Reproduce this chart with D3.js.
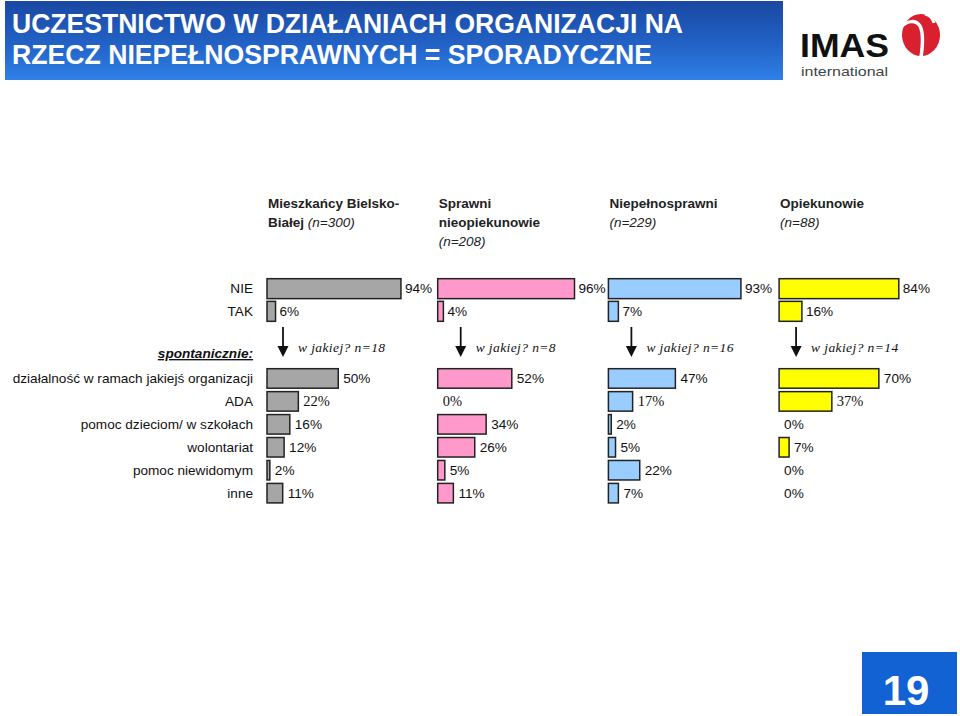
<!DOCTYPE html>
<html><head><meta charset="utf-8">
<script src="https://cdn.jsdelivr.net/npm/d3@7"></script>
<style>body{margin:0;background:#fff}svg{display:block}.serif{font-family:'Liberation Serif','Times New Roman',serif}</style>
</head><body>
<script>
const titleLines = ["UCZESTNICTWO W DZIAŁANIACH ORGANIZACJI NA", "RZECZ NIEPEŁNOSPRAWNYCH = SPORADYCZNE"];
const groups = ["Mieszkańcy Bielsko-Białej", "Sprawni nieopiekunowie", "Niepełnosprawni", "Opiekunowie"];
const groupHeaderLines = [
  [["Mieszkańcy Bielsko-", ""], ["Białej ", "(n=300)"]],
  [["Sprawni", ""], ["nieopiekunowie", ""], ["", "(n=208)"]],
  [["Niepełnosprawni", ""], ["", "(n=229)"]],
  [["Opiekunowie", ""], ["", "(n=88)"]]
];
const answerLabels = ["NIE", "TAK"];
const nieValues = [94, 96, 93, 84];
const takValues = [6, 4, 7, 16];
const subN = [18, 8, 16, 14];
const categories = ["działalność w ramach jakiejś organizacji", "ADA", "pomoc dzieciom/ w szkołach", "wolontariat", "pomoc niewidomym", "inne"];
const mieszkancyValues = [50, 22, 16, 12, 2, 11];
const sprawniValues = [52, 0, 34, 26, 5, 11];
const niepelnosprawniValues = [47, 17, 2, 5, 22, 7];
const opiekunowieValues = [70, 37, 0, 7, 0, 0];
const groupColors = ["#a6a6a6", "#ff99cc", "#99ccff", "#ffff00"];
const pageNumber = "19";

const seriesValues = [mieszkancyValues, sprawniValues, niepelnosprawniValues, opiekunowieValues];
const W = 960, H = 716;
const svg = d3.select("body").append("svg").attr("width", W).attr("height", H)
  .attr("font-family", "Arial, 'Liberation Sans', sans-serif");

// header
const defs = svg.append("defs");
const grad = defs.append("linearGradient").attr("id", "hdr").attr("x1", 0).attr("y1", 0).attr("x2", 0).attr("y2", 1);
grad.append("stop").attr("offset", "0%").attr("stop-color", "#1a48a2");
grad.append("stop").attr("offset", "55%").attr("stop-color", "#2262c6");
grad.append("stop").attr("offset", "100%").attr("stop-color", "#2f80e8");
svg.append("rect").attr("x", 5).attr("y", 1).attr("width", 778).attr("height", 79).attr("fill", "url(#hdr)");
const titleWidths = [671, 640];
titleLines.forEach((t, i) => {
  svg.append("text").attr("x", 12).attr("y", 33 + i * 31).text(t)
    .attr("fill", "#fff").attr("font-weight", "bold").attr("font-size", 28)
    .attr("textLength", titleWidths[i]).attr("lengthAdjust", "spacingAndGlyphs");
});

// logo
svg.append("text").attr("x", 800).attr("y", 57).text("IMAS").attr("font-weight", "bold")
  .attr("font-size", 34).attr("fill", "#111").attr("textLength", 89).attr("lengthAdjust", "spacingAndGlyphs");
svg.append("text").attr("x", 801).attr("y", 76).text("international").attr("font-size", 13)
  .attr("fill", "#444").attr("textLength", 87).attr("lengthAdjust", "spacingAndGlyphs");
svg.append("ellipse").attr("cx", 921).attr("cy", 35).attr("rx", 19).attr("ry", 21).attr("fill", "#d8202f");
svg.append("path").attr("d", "M901,27 C908,20 916,20 920,26 C923,32 923,44 921,57")
  .attr("fill", "none").attr("stroke", "#fff").attr("stroke-width", 3.5);
svg.append("path").attr("d", "M925,14 C930,15 933,19 934,23").attr("fill", "none")
  .attr("stroke", "#fff").attr("stroke-width", 3);

// scales
const x = d3.scaleLinear().domain([0, 100]).range([0, 142.5]);
const gx = d3.scaleBand().domain(groups).range([267, 267 + 4 * 170.7]).paddingInner(0);
const yTop = d3.scaleBand().domain(answerLabels).range([278, 278 + 2 * 22]).paddingInner(0.12).paddingOuter(0.03);
const yRow = d3.scaleBand().domain(categories).range([368, 368 + 6 * 22.6]).paddingInner(0.15).paddingOuter(0.03);

// group headers
groups.forEach((g, gi) => {
  const t = svg.append("text").attr("font-size", 13.5).attr("fill", "#222");
  groupHeaderLines[gi].forEach((ln, li) => {
    const ts = t.append("tspan").attr("x", gx(g) + 1).attr("y", 208 + li * 19);
    if (ln[0]) ts.append("tspan").attr("font-weight", "bold").text(ln[0]);
    if (ln[1]) ts.append("tspan").attr("font-style", "italic").text(ln[1]);
  });
});

// row labels
answerLabels.forEach(a => {
  svg.append("text").attr("x", 253).attr("y", yTop(a) + yTop.bandwidth() / 2).attr("dy", "0.35em")
    .attr("text-anchor", "end").attr("font-size", 13.6).attr("fill", "#111").text(a);
});
svg.append("text").attr("x", 253).attr("y", 358).attr("text-anchor", "end").attr("font-size", 13.6)
  .attr("font-weight", "bold").attr("font-style", "italic").attr("text-decoration", "underline")
  .attr("fill", "#111").text("spontanicznie:");
categories.forEach(c => {
  svg.append("text").attr("x", 253).attr("y", yRow(c) + yRow.bandwidth() / 2).attr("dy", "0.35em")
    .attr("text-anchor", "end").attr("font-size", 13.6).attr("fill", "#111").text(c);
});

// top bars
const topData = [];
groups.forEach((g, gi) => {
  topData.push({ g, gi, a: "NIE", v: nieValues[gi] });
  topData.push({ g, gi, a: "TAK", v: takValues[gi] });
});
svg.selectAll(".tb").data(topData).join("rect").attr("class", "tb")
  .attr("x", d => gx(d.g)).attr("y", d => yTop(d.a))
  .attr("width", d => x(d.v)).attr("height", yTop.bandwidth())
  .attr("fill", d => groupColors[d.gi]).attr("stroke", "#222").attr("stroke-width", 1.5);
svg.selectAll(".tl").data(topData).join("text").attr("class", "tl")
  .attr("x", d => gx(d.g) + x(d.v) + 4).attr("y", d => yTop(d.a) + yTop.bandwidth() / 2).attr("dy", "0.35em")
  .attr("font-size", 13.6).attr("fill", "#111").text(d => d.v + "%");

// arrows and sub headers
const arrowOffsets = [16, 23, 23, 17];
groups.forEach((g, gi) => {
  const ax = gx(g) + arrowOffsets[gi];
  svg.append("line").attr("x1", ax).attr("x2", ax).attr("y1", 327).attr("y2", 348)
    .attr("stroke", "#111").attr("stroke-width", 1.8);
  svg.append("path").attr("d", `M${ax - 5.5},346 L${ax + 5.5},346 L${ax},357 Z`).attr("fill", "#111");
  svg.append("text").attr("class", "serif").attr("x", ax + 15).attr("y", 352)
    .attr("font-style", "italic")
    .attr("font-size", 13.5).attr("fill", "#111").attr("letter-spacing", 0.4)
    .text("w jakiej? n=" + subN[gi]);
});

// bottom bars
const rowData = [];
groups.forEach((g, gi) => categories.forEach((c, ci) => rowData.push({ g, gi, c, ci, v: seriesValues[gi][ci] })));
svg.selectAll(".rb").data(rowData.filter(d => d.v > 0)).join("rect").attr("class", "rb")
  .attr("x", d => gx(d.g)).attr("y", d => yRow(d.c))
  .attr("width", d => x(d.v)).attr("height", yRow.bandwidth())
  .attr("fill", d => groupColors[d.gi]).attr("stroke", "#222").attr("stroke-width", 1.5);
svg.selectAll(".rl").data(rowData).join("text")
  .attr("class", d => d.c === "ADA" ? "rl serif" : "rl")
  .attr("x", d => gx(d.g) + x(d.v) + 5).attr("y", d => yRow(d.c) + yRow.bandwidth() / 2).attr("dy", "0.35em")
  .attr("font-size", d => d.c === "ADA" ? 14.5 : 13.6).attr("fill", "#111")
  .text(d => d.v + "%");

// page number
svg.append("rect").attr("x", 862).attr("y", 652).attr("width", 95).attr("height", 62).attr("fill", "#1262d4");
svg.append("text").attr("x", 906).attr("y", 705).attr("text-anchor", "middle").attr("font-size", 42)
  .attr("font-weight", "bold").attr("fill", "#fff").text(pageNumber);
</script>
</body></html>
